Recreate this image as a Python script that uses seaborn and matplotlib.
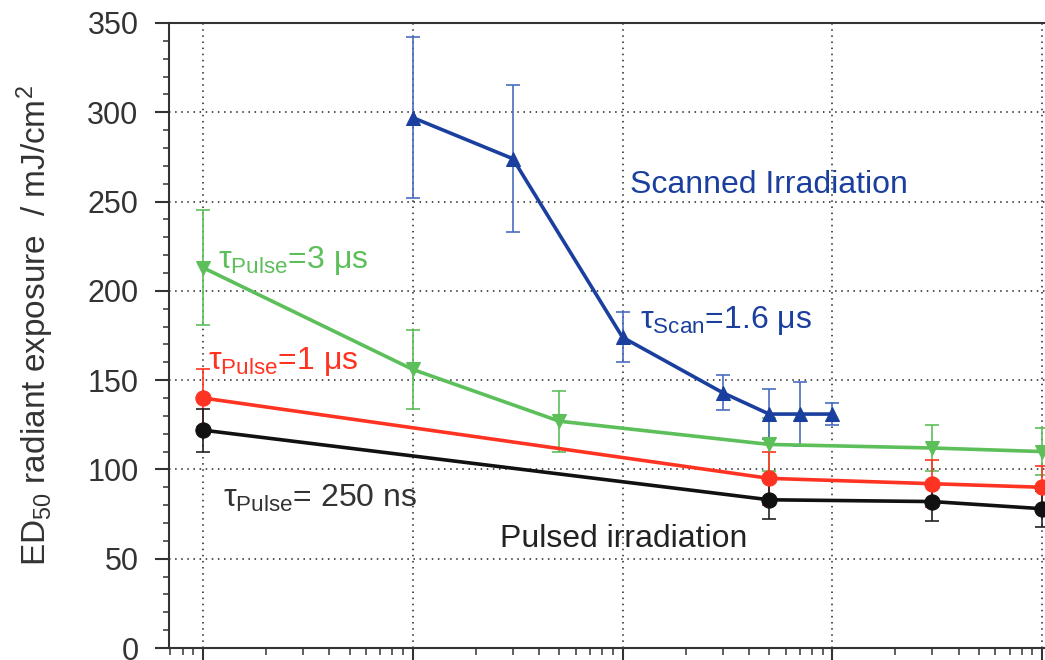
import numpy as np
import pandas as pd
import matplotlib
matplotlib.use("Agg")
import matplotlib.pyplot as plt
import seaborn as sns
from matplotlib.ticker import LogLocator, MultipleLocator, NullFormatter

# ---------------- data ----------------
x_250ns = [1, 500, 3000, 10000]
y_250ns = [122, 83, 82, 78]
e_250ns = [12, 11, 11, 10]

x_1us = [1, 500, 3000, 10000]
y_1us = [140, 95, 92, 90]
e_1us = [16, 15, 13, 12]

x_3us = [1, 10, 50, 500, 3000, 10000]
y_3us = [213, 156, 127, 114, 112, 110]
e_3us = [32, 22, 17, 15, 13, 13]

x_scan = [10, 30, 100, 300, 500, 700, 1000]
y_scan = [297, 274, 174, 143, 131, 131, 131]
e_scan = [45, 41, 14, 10, 14, 18, 6]

series_names = ["250 ns", "1 us", "3 us", "scan"]
colors = {"250 ns": "#111111", "1 us": "#ff3322", "3 us": "#5cbf5a", "scan": "#1a3f9e"}
err_colors = {"250 ns": "#222222", "1 us": "#ff3322", "3 us": "#5cbf5a", "scan": "#4a6cc0"}
markers = {"250 ns": "o", "1 us": "o", "3 us": "v", "scan": "^"}

frames = []
for name, xs, ys, es in [("250 ns", x_250ns, y_250ns, e_250ns),
                         ("1 us", x_1us, y_1us, e_1us),
                         ("3 us", x_3us, y_3us, e_3us),
                         ("scan", x_scan, y_scan, e_scan)]:
    frames.append(pd.DataFrame({"x": xs, "y": ys, "err": es, "series": name}))
df = pd.concat(frames, ignore_index=True)

# ---------------- style ----------------
sns.set_style("ticks")
plt.rcParams["font.family"] = ["Liberation Sans", "DejaVu Sans"]
plt.rcParams["mathtext.fontset"] = "custom"
plt.rcParams["mathtext.rm"] = "Liberation Sans"
plt.rcParams["mathtext.it"] = "Liberation Sans:italic"
plt.rcParams["mathtext.bf"] = "Liberation Sans:bold"

fig = plt.figure(figsize=(10.45, 6.60), dpi=100)
ax = fig.add_axes([0.1617, 0.01818, 0.8455, 0.947])

draw_order = ["3 us", "1 us", "250 ns", "scan"]
for name in draw_order:
    sub = df[df["series"] == name]
    ax.errorbar(sub["x"], sub["y"], yerr=sub["err"], fmt="none",
                ecolor=err_colors[name], elinewidth=1.2, capsize=5, capthick=1.2,
                zorder=2)
    sns.lineplot(data=sub, x="x", y="y", ax=ax, color=colors[name],
                 marker=markers[name], markersize=11 if markers[name] == "o" else 10,
                 markeredgecolor=colors[name], linewidth=2.6, legend=False,
                 zorder=3, errorbar=None)

ax.set_xscale("log")
ax.set_xlim(10 ** (-0.1621), 10 ** 4.05)
ax.set_ylim(0, 350)

ax.yaxis.set_major_locator(MultipleLocator(50))
ax.yaxis.set_minor_locator(MultipleLocator(10))
ax.xaxis.set_major_locator(LogLocator(base=10, numticks=20))
ax.xaxis.set_minor_locator(LogLocator(base=10, subs=np.arange(2, 10), numticks=20))
ax.xaxis.set_major_formatter(NullFormatter())
ax.xaxis.set_minor_formatter(NullFormatter())

ax.grid(True, which="major", linestyle=(0, (1, 3)), color="#222222", linewidth=1.1)
ax.set_axisbelow(True)

for side in ["left", "top", "bottom", "right"]:
    ax.spines[side].set_color("#333333")
    ax.spines[side].set_linewidth(1.5)
    ax.spines[side].set_visible(True)

ax.tick_params(axis="y", which="major", direction="out", length=10, width=1.5,
               color="#333333", labelsize=22, labelcolor="#333333", pad=12)
ax.tick_params(axis="y", which="minor", direction="out", length=4, width=1.1, color="#333333")
ax.tick_params(axis="x", which="major", direction="out", length=9, width=1.5, color="#333333")
ax.tick_params(axis="x", which="minor", direction="out", length=5, width=1.1, color="#333333")

ax.set_xlabel("")
ax.set_ylabel("")
fig.text(35 / 1045, 1 - 326 / 660, r"ED$_{50}$ radiant exposure  / mJ/cm$^{2}$",
         fontsize=24, color="#333333", rotation=90, ha="center", va="center")

# ---------------- annotations ----------------
fs = 23
ax.text(108.7, 254.8, "Scanned Irradiation", color="#1a3f9e", fontsize=fs,
        ha="left", va="baseline")
ax.text(121, 179, r"τ$_{\mathrm{Scan}}$=1.6 μs", color="#1a3f9e", fontsize=fs,
        ha="left", va="baseline")
ax.text(1.18, 212.8, r"τ$_{\mathrm{Pulse}}$=3 μs", color="#5cbf5a", fontsize=fs,
        ha="left", va="baseline")
ax.text(1.056, 156.2, r"τ$_{\mathrm{Pulse}}$=1 μs", color="#ff3322", fontsize=fs,
        ha="left", va="baseline")
ax.text(1.24, 79.1, r"τ$_{\mathrm{Pulse}}$= 250 ns", color="#333333", fontsize=fs,
        ha="left", va="baseline")
ax.text(26.1, 56.7, "Pulsed irradiation", color="#222222", fontsize=fs,
        ha="left", va="baseline")

fig.savefig("out.png", dpi=100)
